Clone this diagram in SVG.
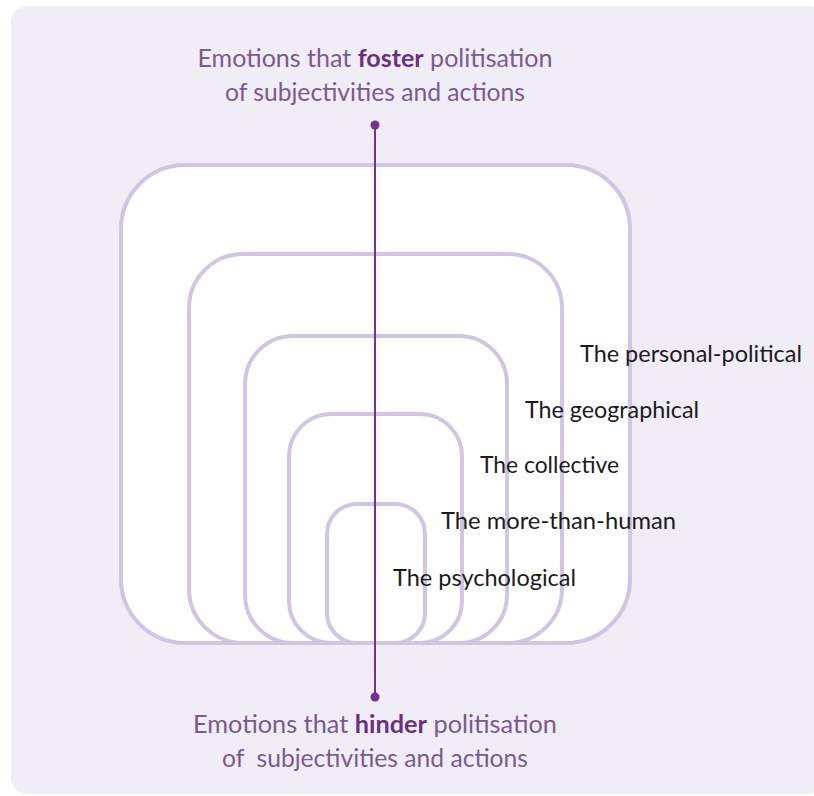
<svg xmlns="http://www.w3.org/2000/svg" width="814" height="796" viewBox="0 0 814 796">
<style>
.ring{fill:#ffffff;stroke:#d0c5e2;stroke-width:4}
.title{font-family:Lato,"Open Sans",sans-serif;font-size:25px;fill:#7b5a92;text-anchor:middle}
.title .b{font-weight:bold;fill:#6a2f85}
.lbl{font-family:Lato,"Open Sans",sans-serif;font-size:22.5px;fill:#1b1b1b}
</style>
<rect x="0" y="0" width="814" height="796" fill="#ffffff"/>
<rect x="11" y="6" width="812" height="788" rx="16" fill="#f0edf6"/>
<g id="rings">
<g id="ring-personal-political"><rect class="ring" x="121" y="165" width="509" height="478" rx="64"/></g>
<g id="ring-geographical"><rect class="ring" x="189" y="254" width="373" height="389" rx="54"/></g>
<g id="ring-collective"><rect class="ring" x="245" y="336" width="262" height="307" rx="48"/></g>
<g id="ring-more-than-human"><rect class="ring" x="289" y="414" width="173" height="229" rx="42"/></g>
<g id="ring-psychological"><rect class="ring" x="327" y="504" width="98" height="139" rx="30"/></g>
</g>
<g id="connectors">
<line x1="375" y1="125" x2="375" y2="697" stroke="#7a2f8e" stroke-width="2"/>
<circle cx="375" cy="125" r="4.5" fill="#7a2f8e"/>
<circle cx="375" cy="697" r="4.5" fill="#7a2f8e"/>
</g>
<g id="top-title">
<text class="title" x="375" y="67" textLength="355" lengthAdjust="spacingAndGlyphs">Emotions that <tspan class="b">foster</tspan> politisation</text>
<text class="title" x="375" y="101" textLength="300" lengthAdjust="spacingAndGlyphs">of subjectivities and actions</text>
</g>
<g id="bottom-title">
<text class="title" x="375" y="733" textLength="364" lengthAdjust="spacingAndGlyphs">Emotions that <tspan class="b">hinder</tspan> politisation</text>
<text class="title" x="375" y="767" xml:space="preserve" textLength="306" lengthAdjust="spacingAndGlyphs">of  subjectivities and actions</text>
</g>
<g id="labels">
<text class="lbl" x="580" y="362" textLength="222" lengthAdjust="spacingAndGlyphs">The personal-political</text>
<text class="lbl" x="525" y="418" textLength="174" lengthAdjust="spacingAndGlyphs">The geographical</text>
<text class="lbl" x="480" y="473" textLength="139" lengthAdjust="spacingAndGlyphs">The collective</text>
<text class="lbl" x="441" y="529" textLength="235" lengthAdjust="spacingAndGlyphs">The more-than-human</text>
<text class="lbl" x="393" y="586" textLength="183" lengthAdjust="spacingAndGlyphs">The psychological</text>
</g>
</svg>
